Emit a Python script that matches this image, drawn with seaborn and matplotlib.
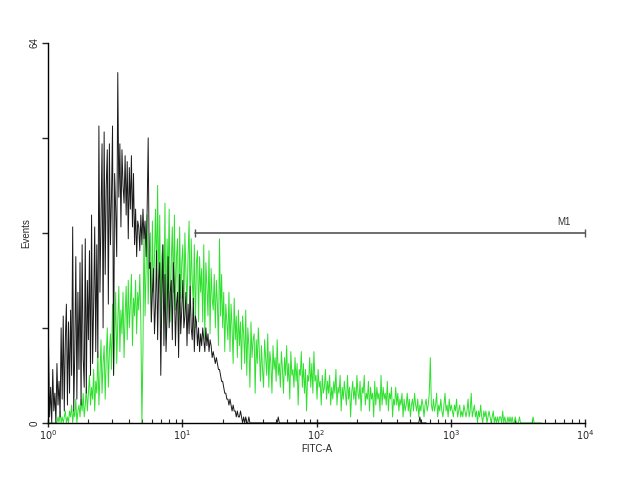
import numpy as np
import pandas as pd
import matplotlib
matplotlib.use("Agg")
import matplotlib.pyplot as plt
import seaborn as sns

# channels are log-spaced, 128 per decade, starting at 10^0
bins_per_decade = 128

# control (black) histogram, counts per channel
control_counts = [
    13, 1, 6, 0, 9, 2, 5, 0, 10, 3, 7,
    1, 16, 4, 18, 2, 14, 20, 3, 17, 5, 19,
    8, 33, 2, 12, 28, 4, 22, 9, 27, 3, 30, 11, 6,
    31, 5, 24, 14, 29, 8, 35, 10, 20, 33, 12, 30,
    11, 50, 22, 34, 47, 16, 49, 25, 40, 46, 20,
    47, 30, 38, 50, 8, 42, 36, 28, 59,
    38, 47, 33, 46, 40, 37, 45, 35, 44, 31, 43, 36,
    45, 33, 42, 30, 36, 28, 34, 33, 29, 35, 30, 36, 31,
    34, 28, 36, 48, 26,
    27, 17, 22, 26, 15, 20, 29, 14, 24, 27, 8, 21, 30, 13,
    25, 12, 18, 28, 16, 22, 24, 14, 27, 23, 13, 20, 22, 11, 25, 15, 19, 24, 16,
    18, 22, 13, 20, 15, 23, 16, 14, 21, 12, 18, 17, 13, 16, 12, 15,
    13, 16, 14, 12, 16, 13, 15, 12, 14, 13, 11, 12, 11, 10, 11,
    10, 9, 9, 8, 7, 7, 6, 5, 5, 4, 4, 3, 4, 3, 2, 3, 2, 2, 1, 2,
    1, 1, 2, 1, 0, 1, 0, 1, 0, 0, 1, 0, 0, 0, 0, 0, 0, 0, 0, 0,
    0, 0, 0, 0, 0, 0, 0, 0, 0, 0, 0, 0, 0, 0, 0, 0, 0, 0, 1, 0,
    0, 0, 0, 0, 0, 0, 0, 0, 0, 0, 0, 0, 0, 0, 0, 0, 0, 0, 0, 0,
    0, 0, 0, 0, 0, 0, 0, 0, 0, 0, 0, 0, 0, 0, 0, 0, 0, 0, 0, 0,
    0, 0, 0, 0, 0, 0, 0, 0, 0, 0, 0, 0, 0, 0, 0, 0, 0, 0, 0, 0,
    0, 0, 0, 0, 0, 0, 0, 0, 0, 0, 0, 0, 0, 0, 0, 0, 0, 0, 0, 0,
    0, 0, 0, 0, 0, 0, 0, 0, 0, 0, 0, 0, 0, 0, 0, 0, 0, 0, 0, 0,
    0, 0, 0, 0, 0, 0, 0, 0, 0, 0, 0, 0, 0, 0, 0, 0, 0, 0, 0, 0,
    0, 0, 0, 0, 0, 0, 0, 0, 0, 0, 0, 0, 0, 1, 0, 0, 0, 0, 0, 0,
]

# stained (green) histogram, counts per channel
stained_counts = [
    0, 0, 0, 0, 0, 0, 0, 0,
    0, 1, 0, 2, 0, 1, 0, 1, 2, 0, 1, 0, 2,
    1, 3, 0, 2, 1, 4, 0, 2, 3, 1, 4, 2, 5, 1,
    3, 6, 2, 5, 8, 3, 6, 4, 9, 2, 7, 5,
    12, 3, 8, 14, 5, 10, 13, 4, 11, 16, 6, 12, 15, 9,
    20, 8, 14, 22, 10, 17, 23, 12, 19, 15, 22, 11, 18, 23,
    14, 24, 16, 20, 25, 13, 21, 18, 24, 15, 22, 19, 25, 17,
    0, 12,
    33, 18, 26, 35, 20, 29, 32, 17, 34, 22, 28, 36, 24, 40,
    22, 35, 16, 28, 30, 20, 37, 14, 31, 24, 36, 17, 27, 33,
    22, 35, 19, 28, 31, 14, 33, 21, 27, 30, 18, 32, 25, 20,
    28, 34, 18, 31, 24, 20, 30, 16, 27, 29, 17, 28, 22, 26,
    17, 30, 14, 27, 23, 18, 29, 15, 26, 21, 19, 25, 16, 24,
    20, 13, 31, 18, 25, 16, 22, 12, 20, 17, 14, 22,
    12, 20, 16, 10, 21, 14, 18, 11, 19, 13, 17, 9, 18, 15,
    10, 19, 8, 16, 13, 6, 17, 11, 14, 15, 5, 14, 10, 16, 12, 7, 13, 9, 6, 14,
    11, 8, 15, 6, 12, 10, 5, 13, 9, 11, 7, 14, 8, 10, 6, 12, 9, 5, 11, 8,
    13, 7, 10, 4, 12, 8, 9, 6, 11, 7, 10, 3, 9, 8, 12, 6, 10, 5, 9, 2, 8, 7, 11, 6,
    10, 5, 12, 7, 8, 4, 9, 6, 7, 3, 8, 5, 6, 9, 4, 7, 5, 8, 3, 6,
    4, 7, 5, 9, 3, 6, 5, 8, 2, 6, 4, 7, 5, 3, 8, 4, 6, 1, 5, 7, 4, 6, 3, 8, 5, 4, 7, 2, 6, 5,
    8, 3, 5, 4, 7, 2, 6, 4, 5, 1, 7, 3, 6, 4, 5, 2, 8, 3, 6, 4, 5, 3, 7, 2, 5, 4, 6, 1, 4, 3,
    6, 3, 5, 2, 4, 3, 5, 1, 4, 2, 3, 5, 2, 4, 1, 3, 4, 2, 5, 3,
    2, 4, 1, 3, 2, 4, 3, 1, 3, 4, 2, 3, 5, 11, 3, 2,
    4, 2, 3, 5, 1, 3, 2, 4, 2, 1, 3, 5, 2, 3, 1, 4, 2, 3, 2, 1, 3, 2, 4, 1,
    2, 3, 1, 2, 1, 3, 2, 1, 2, 4, 1, 2, 5, 1, 2, 3, 1, 2, 0, 2, 1, 3, 1, 0, 2, 1, 2, 0, 1, 2,
    1, 0, 1, 2, 0, 1, 0, 1, 0, 1, 1, 0, 2, 0, 1, 0, 0, 1, 0, 1,
    0, 1, 0, 0, 1, 0, 0, 0, 1, 0, 0, 0, 0, 0, 0, 0, 0, 0, 0, 0, 0, 1, 0, 0, 0, 0, 0, 0, 0, 0,
]

x_tick_labels = [r"$10^0$", r"$10^1$", r"$10^2$", r"$10^3$", r"$10^4$"]
marker_name = "M1"
marker_range = (12.4, 10000)
marker_level = 32

n = len(control_counts)
m = len(stained_counts)
ch = 10 ** ((np.arange(max(n, m)) + 0.5) / bins_per_decade)

df_ctrl = pd.DataFrame({"FITC": ch[:n], "Events": control_counts})
df_stain = pd.DataFrame({"FITC": ch[:m], "Events": stained_counts})

sns.set_style("white")
plt.rcParams["font.family"] = ["Liberation Sans", "DejaVu Sans"]

fig = plt.figure(figsize=(6.37, 4.80), dpi=100)
ax = fig.add_axes([0.0754, 0.119, 0.8430, 0.7917])

sns.lineplot(data=df_stain, x="FITC", y="Events", ax=ax, color="#2fe02f",
             lw=0.7, estimator=None)
sns.lineplot(data=df_ctrl, x="FITC", y="Events", ax=ax, color="#1a1a1a",
             lw=0.7, estimator=None)

ax.set_xscale("log")
ax.set_xlim(1, 10000)
ax.set_ylim(0, 64)

# gate marker
ax.plot(list(marker_range), [marker_level] * 2, color="#555555", lw=1.2,
        marker="|", markersize=6, clip_on=False)
ax.text(7000, marker_level + 1.0, marker_name, fontsize=7, ha="center",
        va="bottom", color="#333333")

sns.despine(ax=ax)
for s in ["left", "bottom"]:
    ax.spines[s].set_color("black")
    ax.spines[s].set_linewidth(1.0)

ax.set_yticks([0, 16, 32, 48, 64])
ax.set_yticklabels(["0", "", "", "", "64"], rotation=90, va="center", fontsize=7)
ax.set_xticks([1, 10, 100, 1000, 10000])
ax.set_xticklabels(x_tick_labels, fontsize=7)
ax.xaxis.set_minor_locator(matplotlib.ticker.LogLocator(base=10, subs=np.arange(2, 10)))
ax.xaxis.set_minor_formatter(matplotlib.ticker.NullFormatter())
ax.tick_params(axis="y", direction="out", length=4, width=1, pad=2, left=True)
ax.tick_params(axis="x", which="major", direction="inout", length=6, width=1, pad=1, bottom=True)
ax.tick_params(axis="x", which="minor", direction="in", length=3, width=0.8, bottom=True)

ax.set_xlabel("FITC-A", fontsize=7, labelpad=1)
ax.set_ylabel("Events", fontsize=7, labelpad=-1)

fig.savefig("out.png", dpi=100)
